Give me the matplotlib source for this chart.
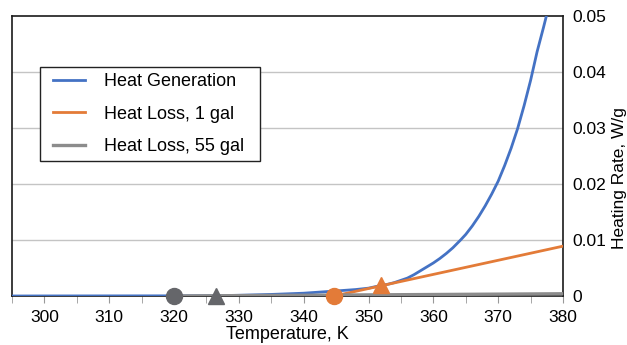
import matplotlib.pyplot as plt
from matplotlib.legend_handler import HandlerLine2D
from matplotlib.ticker import MultipleLocator

# Heat generation vs heat loss (Semenov style diagram)

plt.rcParams['font.family'] = ['Liberation Sans', 'DejaVu Sans']
plt.rcParams['font.size'] = 13

# values
temp_gen = [295, 300, 310, 320, 326.5, 330, 335, 340, 345, 348, 350, 352, 353, 354, 355,
            356, 357, 358, 359, 360, 361, 362, 363, 364.2, 365, 366, 367, 368, 369, 370,
            371, 372, 373, 374, 375, 376, 377, 377.5, 378.5]
heat_gen = [0.0, 0.00001, 0.00002, 0.00003, 0.00005, 0.00013, 0.00028, 0.00050, 0.00090,
            0.00115, 0.00140, 0.00190, 0.0021, 0.0024, 0.0028, 0.0032, 0.0038, 0.0045,
            0.0052, 0.0059, 0.0067, 0.0076, 0.0086, 0.0100, 0.0110, 0.0125, 0.0142,
            0.0161, 0.0182, 0.0205, 0.0233, 0.0264, 0.0299, 0.0340, 0.0385, 0.0436,
            0.0480, 0.0503, 0.0555]

temp_loss_1 = [344.7, 380]
heat_loss_1 = [0.0, 0.0089]
temp_loss_55 = [320, 380]
heat_loss_55 = [0.0, 0.0004]

# ambient (circle) and critical (triangle) points
ambient_1, critical_1 = (344.7, 0.0), (352.0, 0.0019)
ambient_55, critical_55 = (320.0, 0.0), (326.5, 0.00003)

labels = ['Heat Generation', 'Heat Loss, 1 gal', 'Heat Loss, 55 gal']
c_blue, c_orange, c_gray, c_mark = '#4472C4', '#E37B38', '#8C8C8C', '#65666A'

fig = plt.figure(figsize=(6.27, 3.45), dpi=100)
ax = fig.add_axes([12 / 627, 49 / 345, 551 / 627, 280 / 345])

ax.plot(temp_gen, heat_gen, color=c_blue, lw=2.0, label=labels[0], zorder=3)
ax.plot(temp_loss_1, heat_loss_1, color=c_orange, lw=2.0, label=labels[1], zorder=4)
ax.plot(temp_loss_55, heat_loss_55, color=c_gray, lw=2.4, label=labels[2], zorder=4)

ax.plot(*ambient_1, 'o', color=c_orange, ms=11.5, clip_on=False, zorder=6)
ax.plot(*critical_1, '^', color=c_orange, ms=11, clip_on=False, zorder=6)
ax.plot(*ambient_55, 'o', color=c_mark, ms=11.5, clip_on=False, zorder=6)
ax.plot(*critical_55, '^', color=c_mark, ms=11, clip_on=False, zorder=6)

ax.set_xlim(295, 380)
ax.set_ylim(0, 0.05)
ax.xaxis.set_major_locator(MultipleLocator(10))
ax.xaxis.set_minor_locator(MultipleLocator(5))
ax.set_yticks([0, 0.01, 0.02, 0.03, 0.04, 0.05])
ax.set_yticklabels(['0', '0.01', '0.02', '0.03', '0.04', '0.05'])

ax.yaxis.tick_right()
ax.tick_params(axis='y', length=0, pad=7, labelsize=12.5)
ax.tick_params(axis='x', which='both', direction='out', length=5, color='#999999', pad=5,
               labelsize=12.5)

ax.grid(axis='y', color='#C4C4C4', lw=1.0)
ax.yaxis.get_gridlines()[-1].set_visible(False)
ax.yaxis.get_gridlines()[0].set_visible(False)
ax.set_axisbelow(True)

for side in ['left', 'right', 'top', 'bottom']:
    ax.spines[side].set_color('#1a1a1a')
    ax.spines[side].set_linewidth(1.2)

ax.set_xlabel('Temperature, K', labelpad=1)
ax.set_ylabel('Heating Rate, W/g', fontsize=12.5)
ax.yaxis.set_label_position('right')
ax.yaxis.set_label_coords(1.089, 0.42)

leg = ax.legend(loc='upper left', bbox_to_anchor=(0.0508, 0.46, 0.399, 0.358),
                mode='expand', borderaxespad=0, borderpad=0.35, labelspacing=0.85,
                handlelength=2.15, handletextpad=1.05, fancybox=False,
                framealpha=1, edgecolor='#222222',
                handler_map={plt.Line2D: HandlerLine2D(xpad=0.37)})
leg.get_frame().set_linewidth(1.0)

plt.savefig('out.png', dpi=100)
